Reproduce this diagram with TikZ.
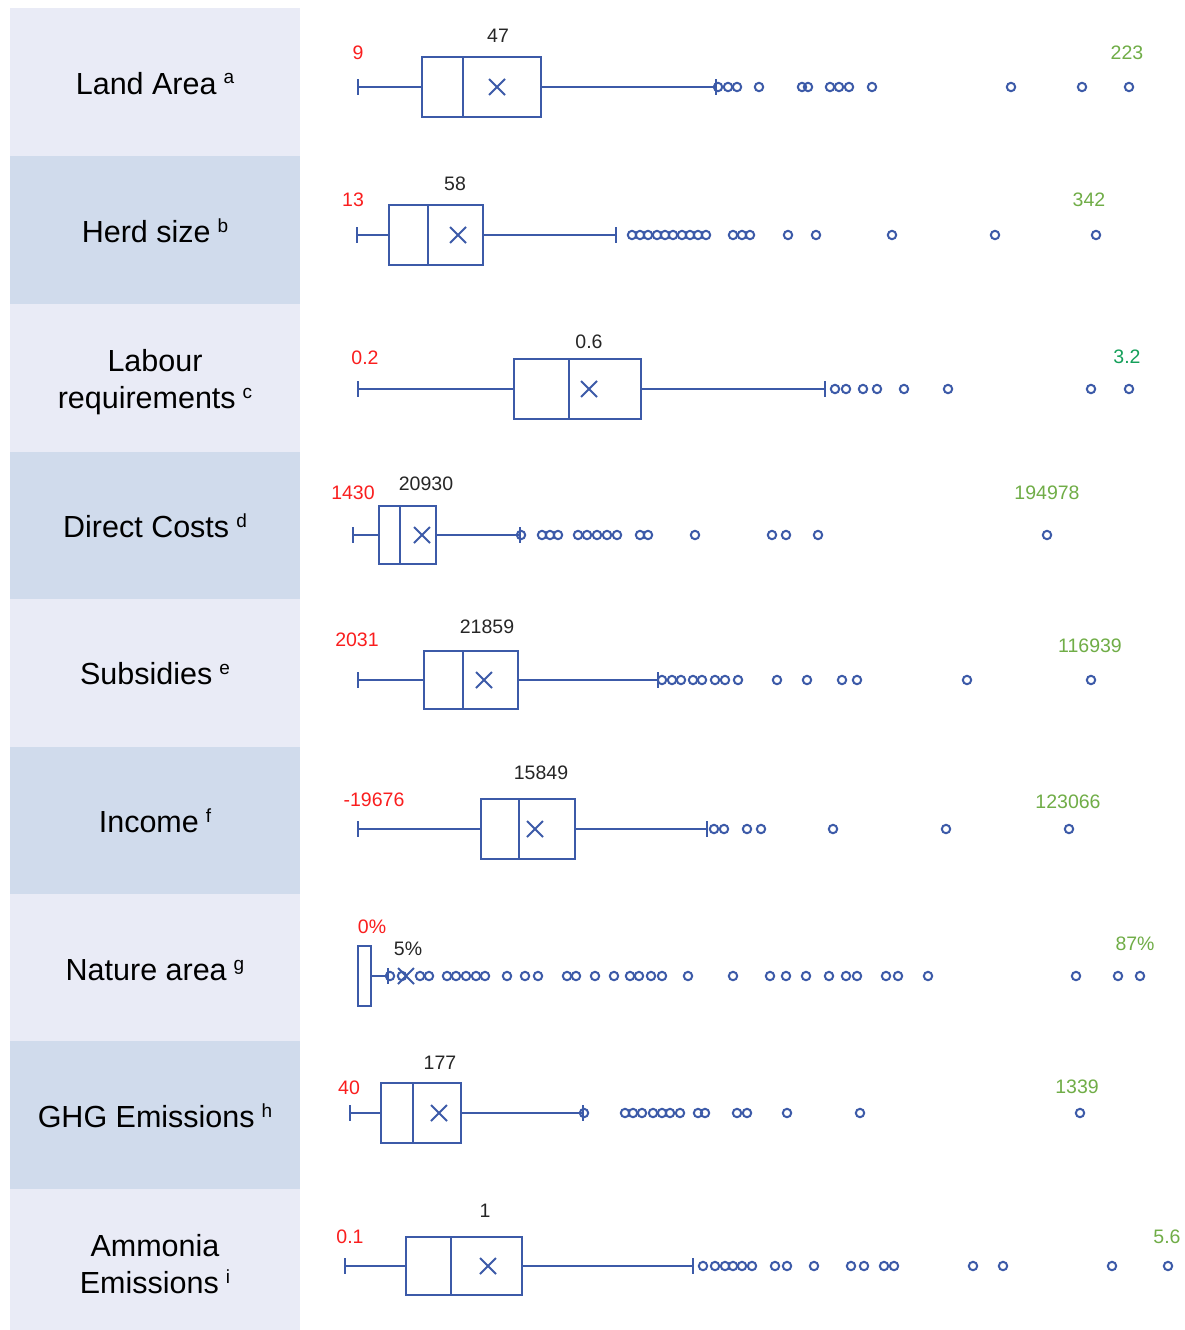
\documentclass[tikz,border=0pt]{standalone}
\usepackage{fontspec}
\setmainfont{Liberation Sans}
\definecolor{bpblue}{RGB}{60,90,168}
\definecolor{rowlight}{RGB}{233,235,246}
\definecolor{rowdark}{RGB}{208,219,236}
\definecolor{minred}{RGB}{250,30,30}
\definecolor{maxgreen}{RGB}{112,173,71}
\definecolor{tealgreen}{RGB}{20,160,90}
\newcommand{\supl}[1]{\hspace{7pt}\raisebox{10pt}{\fontsize{19}{19}\selectfont #1}}
\newcommand{\boxrow}[9]{%
  \draw[bp] (#2,#1-8) -- (#2,#1+8);
  \draw[bp] (#2,#1) -- (#3,#1);
  \draw[bp] (#3,#1-#8) rectangle (#5,#1+#8);
  \draw[bp] (#4,#1-#8) -- (#4,#1+#8);
  \draw[bp] (#5,#1) -- (#6,#1);
  \draw[bp] (#6,#1-8) -- (#6,#1+8);
  \draw[bp] (#7-8,#1-8) -- (#7+8,#1+8) (#7-8,#1+8) -- (#7+8,#1-8);
  \foreach \o in {#9} \draw[bp,line width=2pt] (\o,#1) circle[radius=4.2pt];
}
\begin{document}
\begin{tikzpicture}[x=1pt,y=-1pt,
  bp/.style={draw=bpblue,line width=1.9pt},
  lbl/.style={anchor=base,inner sep=0pt,font=\fontsize{30.5}{37}\selectfont},
  num/.style={anchor=base,inner sep=0pt,font=\fontsize{19.5}{22}\selectfont},
  minlbl/.style={num,text=minred},
  maxlbl/.style={num,text=maxgreen},
  medlbl/.style={num,text=black!85}]
\useasboundingbox (0,0) rectangle (1184,1330);
\fill[white] (0,0) rectangle (1184,1330);
% left panel rows
\fill[rowlight] (10,8) rectangle (300,156);
\fill[rowdark]  (10,156) rectangle (300,304);
\fill[rowlight] (10,304) rectangle (300,452);
\fill[rowdark]  (10,452) rectangle (300,599);
\fill[rowlight] (10,599) rectangle (300,747);
\fill[rowdark]  (10,747) rectangle (300,894);
\fill[rowlight] (10,894) rectangle (300,1041);
\fill[rowdark]  (10,1041) rectangle (300,1189);
\fill[rowlight] (10,1189) rectangle (300,1330);
% row labels
\node[lbl] (lab1) at (155,94) {Land Area\supl{a}};
\node[lbl] (lab2) at (155,242) {Herd size\supl{b}};
\node[lbl] (lab3a) at (155,371) {Labour};
\node[lbl] (lab3b) at (155,408) {requirements\supl{c}};
\node[lbl] (lab4) at (155,537) {Direct Costs\supl{d}};
\node[lbl] (lab5) at (155,684) {Subsidies\supl{e}};
\node[lbl] (lab6) at (155,832) {Income\supl{f}};
\node[lbl] (lab7) at (155,980) {Nature area\supl{g}};
\node[lbl] (lab8) at (155,1127) {GHG Emissions\supl{h}};
\node[lbl] (lab9a) at (155,1256) {Ammonia};
\node[lbl] (lab9b) at (155,1293) {Emissions\supl{i}};
% box plots
\boxrow{87}{358}{422}{463}{541}{716}{497}{30}{718,728,737,759,802,808,830,839,849,872,1011,1082,1129}
\boxrow{235}{357}{389}{428}{483}{616}{458}{30}{632,640,648,657,665,673,682,690,698,706,733,742,750,788,816,892,995,1096}
\boxrow{389}{358}{514}{569}{641}{825}{589}{30}{835,846,863,877,904,948,1091,1129}
\boxrow{535}{353}{379}{400}{436}{520}{422}{29}{521,542,550,558,578,587,597,607,617,640,648,695,772,786,818,1047}
\boxrow{680}{358}{424}{463}{518}{658}{484}{29}{662,672,681,693,702,715,725,738,777,807,842,857,967,1091}
\boxrow{829}{358}{481}{519}{575}{707}{535}{30}{714,724,747,761,833,946,1069}
\boxrow{976}{358}{358}{358}{371}{388}{406}{30}{390,402,420,429,447,456,466,476,485,507,525,538,567,576,595,614,630,639,651,662,688,733,770,786,806,829,846,857,886,898,928,1076,1118,1140}
\boxrow{1113}{350}{381}{413}{461}{583}{439}{30}{584,625,633,642,653,662,670,680,698,705,737,747,787,860,1080}
\boxrow{1266}{345}{406}{451}{522}{693}{488}{29}{703,715,725,733,742,752,775,787,814,851,864,884,894,973,1003,1112,1168}
% value labels
\node[minlbl] (mn1) at (358,59.5) {9};
\node[medlbl] (md1) at (498,42.5) {47};
\node[maxlbl] (mx1) at (1127,59.5) {223};
\node[minlbl] (mn2) at (353,206.5) {13};
\node[medlbl] (md2) at (455,190.5) {58};
\node[maxlbl] (mx2) at (1089,206.5) {342};
\node[minlbl] (mn3) at (365,364.5) {0.2};
\node[medlbl] (md3) at (589,348.5) {0.6};
\node[maxlbl,text=tealgreen] (mx3) at (1127,363.5) {3.2};
\node[minlbl] (mn4) at (353,499.5) {1430};
\node[medlbl] (md4) at (426,490.5) {20930};
\node[maxlbl] (mx4) at (1047,499.5) {194978};
\node[minlbl] (mn5) at (357,646.5) {2031};
\node[medlbl] (md5) at (487,633.5) {21859};
\node[maxlbl] (mx5) at (1090,652.5) {116939};
\node[minlbl] (mn6) at (374,806.5) {-19676};
\node[medlbl] (md6) at (541,779.5) {15849};
\node[maxlbl] (mx6) at (1068,808.5) {123066};
\node[minlbl] (mn7) at (372,933.5) {0\%};
\node[medlbl] (md7) at (408,955.5) {5\%};
\node[maxlbl] (mx7) at (1135,950.5) {87\%};
\node[minlbl] (mn8) at (349,1094.5) {40};
\node[medlbl] (md8) at (440,1069.5) {177};
\node[maxlbl] (mx8) at (1077,1093.5) {1339};
\node[minlbl] (mn9) at (350,1243.5) {0.1};
\node[medlbl] (md9) at (485,1217.5) {1};
\node[maxlbl] (mx9) at (1167,1243.5) {5.6};
\end{tikzpicture}
\end{document}
